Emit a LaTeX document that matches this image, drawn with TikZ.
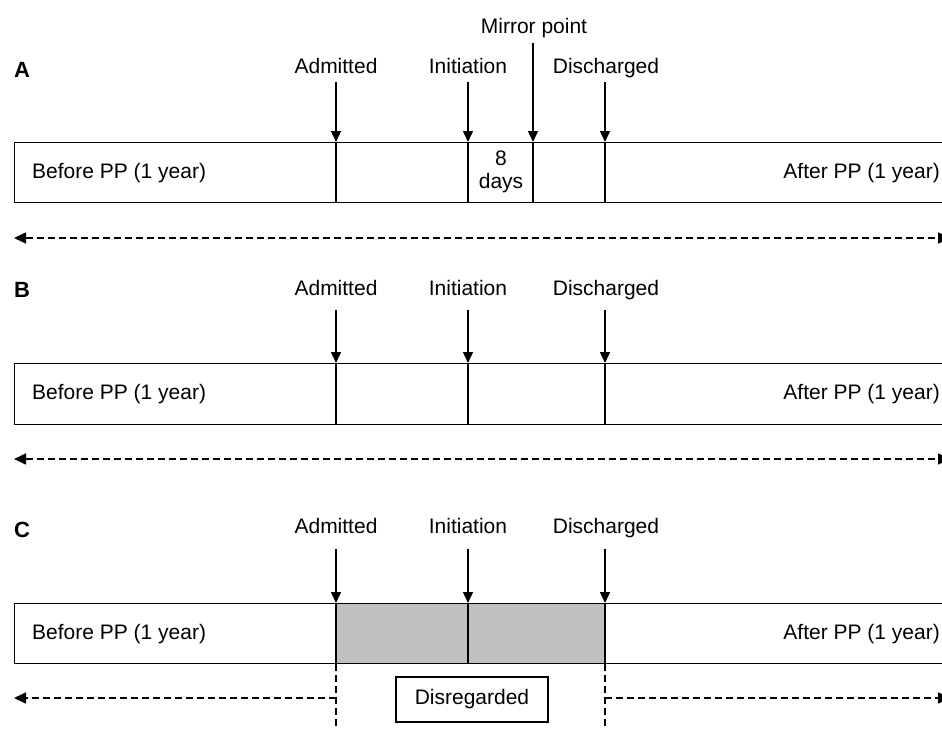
\documentclass[tikz,border=0pt]{standalone}
\usepackage{fontspec}
\setmainfont{Liberation Sans}
\usetikzlibrary{arrows.meta,backgrounds}
\definecolor{greyfill}{HTML}{C0C0C0}
\begin{document}
\begin{tikzpicture}[x=1pt,y=-1pt,
  txt/.style={font=\fontsize{21}{24}\selectfont, inner sep=0pt, anchor=base},
  panel/.style={font=\bfseries\fontsize{22}{24}\selectfont, inner sep=0pt, anchor=base},
  bar/.style={draw=black, line width=1.4pt, inner sep=0pt, minimum width=936pt, minimum height=60pt, anchor=north west},
  tick/.style={line width=1.4pt},
  marker/.style={line width=1.4pt, -{Triangle[width=10pt,length=11pt]}},
  span/.style={line width=1.6pt, dash pattern=on 7pt off 4pt},
  spanboth/.style={span, {Triangle[width=11pt,length=12pt]}-{Triangle[width=11pt,length=12pt]}},
  spanend/.style={span, -{Triangle[width=11pt,length=12pt]}},
  boxed/.style={draw, line width=1.4pt, inner sep=0pt, minimum width=152pt, minimum height=45pt, font=\fontsize{21}{24}\selectfont}
]
\useasboundingbox (0,0) rectangle (942,728);

% ---------------- Panel A ----------------
\node[panel] (lA) at (22,77) {A};
\node[bar] (boxA) at (14,142) {};
\node[txt, anchor=base west] (befA) at (32,178) {Before PP (1 year)};
\node[txt, anchor=base east] (aftA) at (940,178) {After PP (1 year)};
\node[txt] (admA) at (336,73) {Admitted};
\node[txt] (iniA) at (468,73) {Initiation};
\node[txt] (disA) at (606,73) {Discharged};
\node[txt] (mirA) at (534,33) {Mirror point};
\coordinate (admAs) at (336,82);
\coordinate (iniAs) at (468,82);
\coordinate (disAs) at (605,82);
\coordinate (mirAs) at (533,43);
\foreach \p in {admAs,iniAs,disAs,mirAs}{
  \draw[marker] (\p) -- (\p |- boxA.north);
  \draw[tick] (\p |- boxA.north) -- (\p |- boxA.south);
}
\node[font=\fontsize{21}{23}\selectfont, align=center, inner sep=0pt] (dayA) at (501,172) {8\\days};
\coordinate (spAl) at (14,238);
\coordinate (spAr) at (950,238);
\draw[spanboth] (spAl) -- (spAr);

% ---------------- Panel B ----------------
\node[panel] (lB) at (22,297) {B};
\node[bar, minimum height=61pt] (boxB) at (14,363) {};
\node[txt, anchor=base west] (befB) at (32,399) {Before PP (1 year)};
\node[txt, anchor=base east] (aftB) at (940,399) {After PP (1 year)};
\node[txt] (admB) at (336,295) {Admitted};
\node[txt] (iniB) at (468,295) {Initiation};
\node[txt] (disB) at (606,295) {Discharged};
\coordinate (admBs) at (336,310);
\coordinate (iniBs) at (468,310);
\coordinate (disBs) at (605,310);
\foreach \p in {admBs,iniBs,disBs}{
  \draw[marker] (\p) -- (\p |- boxB.north);
  \draw[tick] (\p |- boxB.north) -- (\p |- boxB.south);
}
\coordinate (spBl) at (14,459);
\coordinate (spBr) at (950,459);
\draw[spanboth] (spBl) -- (spBr);

% ---------------- Panel C ----------------
\node[panel] (lC) at (22,537) {C};
\node[bar] (boxC) at (14,603) {};
\node[txt, anchor=base west] (befC) at (32,639) {Before PP (1 year)};
\node[txt, anchor=base east] (aftC) at (940,639) {After PP (1 year)};
\node[txt] (admC) at (336,533) {Admitted};
\node[txt] (iniC) at (468,533) {Initiation};
\node[txt] (disC) at (606,533) {Discharged};
\coordinate (admCs) at (336,549);
\coordinate (iniCs) at (468,549);
\coordinate (disCs) at (605,549);
\begin{scope}[on background layer]
  \fill[greyfill] (admCs |- boxC.north) rectangle (disCs |- boxC.south);
\end{scope}
\foreach \p in {admCs,iniCs,disCs}{
  \draw[marker] (\p) -- (\p |- boxC.north);
  \draw[tick] (\p |- boxC.north) -- (\p |- boxC.south);
}
\coordinate (vCl) at (336,729);
\coordinate (vCr) at (605,729);
\coordinate (spCl) at (14,698);
\coordinate (spCr) at (950,698);
\draw[span] (admCs |- boxC.south) -- (vCl);
\draw[span] (disCs |- boxC.south) -- (vCr);
\draw[spanend] (admCs |- spCl) -- (spCl);
\draw[spanend] (disCs |- spCr) -- (spCr);
\node[boxed] (disreg) at (472,699.5) {Disregarded};
\end{tikzpicture}
\end{document}
